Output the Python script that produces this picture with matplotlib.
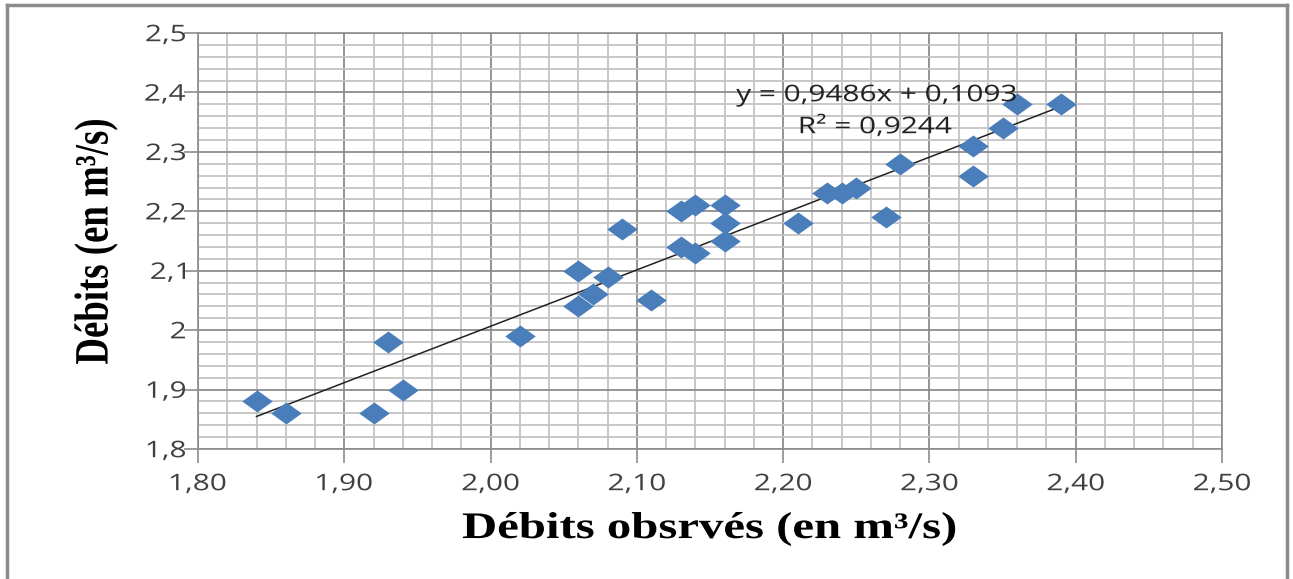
import matplotlib.pyplot as plt
import numpy as np
from matplotlib.path import Path
from matplotlib.ticker import MultipleLocator, NullFormatter
from matplotlib.lines import Line2D
from matplotlib.textpath import TextPath
from matplotlib.patches import PathPatch
from matplotlib.font_manager import FontProperties
from matplotlib.transforms import Affine2D

# Observed vs computed flows
obs = [1.84, 1.86, 1.92, 1.93, 1.94, 2.02, 2.06, 2.06, 2.07, 2.08,
       2.09, 2.11, 2.13, 2.13, 2.14, 2.14, 2.16, 2.16, 2.16, 2.21,
       2.23, 2.24, 2.25, 2.27, 2.28, 2.33, 2.33, 2.35, 2.36, 2.39]
calc = [1.88, 1.86, 1.86, 1.98, 1.90, 1.99, 2.04, 2.10, 2.06, 2.09,
        2.17, 2.05, 2.20, 2.14, 2.21, 2.13, 2.21, 2.18, 2.15, 2.18,
        2.23, 2.23, 2.24, 2.19, 2.28, 2.31, 2.26, 2.34, 2.38, 2.38]
slope = 0.9486
intercept = 0.1093
r2 = 0.9244
x_ticks = [1.80, 1.90, 2.00, 2.10, 2.20, 2.30, 2.40, 2.50]
x_labels = ["1,80", "1,90", "2,00", "2,10", "2,20", "2,30", "2,40", "2,50"]
y_ticks = [1.8, 1.9, 2.0, 2.1, 2.2, 2.3, 2.4, 2.5]
y_labels = ["1,8", "1,9", "2", "2,1", "2,2", "2,3", "2,4", "2,5"]

W, H = 1293, 579
SX = 1.3  # the original picture is stretched horizontally

fig = plt.figure(figsize=(W / 100, H / 100), dpi=100)
ax = fig.add_axes([198 / W, 1 - 449 / H, 1024 / W, 416 / H])


def put_text(s, x, y, family, size, weight="normal", ha="center",
             va="mid", rotation=0, color="#404040"):
    """Draw text as a path (x, y in pixels from bottom-left), stretched by SX."""
    fp = FontProperties(family=family, weight=weight)
    px = size * fig.dpi / 72
    tp = TextPath((0, 0), s, size=px, prop=fp)
    bb = tp.get_extents()
    dx = {"left": bb.x0, "center": (bb.x0 + bb.x1) / 2, "right": bb.x1}[ha]
    if va == "mid":
        ref = TextPath((0, 0), "0", size=px, prop=fp).get_extents()
        dy = (ref.y0 + ref.y1) / 2
    else:
        dy = (bb.y0 + bb.y1) / 2
    t = (Affine2D().translate(-dx, -dy).rotate_deg(rotation)
         .scale(SX, 1).translate(x, y))
    fig.add_artist(PathPatch(tp, transform=t, facecolor=color,
                             edgecolor="none", lw=0))


# wide diamond marker
diamond = Path([(-1, 0), (0, 0.72), (1, 0), (0, -0.72), (-1, 0)],
               [Path.MOVETO, Path.LINETO, Path.LINETO, Path.LINETO, Path.CLOSEPOLY])

xs = np.array([min(obs), max(obs)])
ax.plot(xs, slope * xs + intercept, color="#222222", linewidth=1.1, zorder=3)
ax.plot(obs, calc, linestyle="none", marker=diamond, markersize=22,
        color="#4A7EBB", markeredgewidth=0, zorder=4)

ax.set_xlim(1.80, 2.50)
ax.set_ylim(1.8, 2.5)
ax.set_xticks(x_ticks)
ax.set_yticks(y_ticks)
ax.xaxis.set_minor_locator(MultipleLocator(0.02))
ax.yaxis.set_minor_locator(MultipleLocator(0.02))
ax.xaxis.set_major_formatter(NullFormatter())
ax.yaxis.set_major_formatter(NullFormatter())

ax.grid(True, which="major", color="#8c8c8c", linewidth=1.3)
ax.grid(True, which="minor", color="#c4c4c4", linewidth=1.3)
ax.set_axisbelow(True)
ax.tick_params(which="major", length=10, width=1.2, color="#8c8c8c")
ax.tick_params(which="minor", length=0)
for side in ["left", "bottom", "top", "right"]:
    ax.spines[side].set_color("#8c8c8c")
    ax.spines[side].set_linewidth(1.2)

# tick labels
for v, s in zip(x_ticks, x_labels):
    px, _ = ax.transData.transform((v, 1.8))
    put_text(s, px, H - 482, "Open Sans", 16.5)
for v, s in zip(y_ticks, y_labels):
    _, py = ax.transData.transform((1.8, v))
    put_text(s, 185, py, "Open Sans", 16.5, ha="right")

# axis titles
put_text("Débits obsrvés (en m³/s)", 709, H - 529, "Liberation Serif", 27,
         weight="bold", va="box", color="black")
put_text("Débits (en m³/s)", 96, H - 242, "Liberation Serif", 26.5,
         weight="bold", va="box", rotation=90, color="black")

# trendline equation
eq = f"y = {slope:.4f}x + {intercept:.4f}".replace(".", ",")
put_text(eq, 876, H - 93, "Open Sans", 16.5, color="#222222")
put_text(f"R² = {r2:.4f}".replace(".", ","), 876, H - 125, "Open Sans", 16.5,
         color="#222222")

# outer frame
fr = dict(color="#8c8c8c", linewidth=2.5, transform=fig.transFigure)
fig.add_artist(Line2D([7 / W, 7 / W], [0, 1 - 5 / H], **fr))
fig.add_artist(Line2D([7 / W, 1287 / W], [1 - 5 / H, 1 - 5 / H], **fr))
fig.add_artist(Line2D([1287 / W, 1287 / W], [0, 1 - 5 / H], **fr))

fig.savefig("out.png", dpi=100)
